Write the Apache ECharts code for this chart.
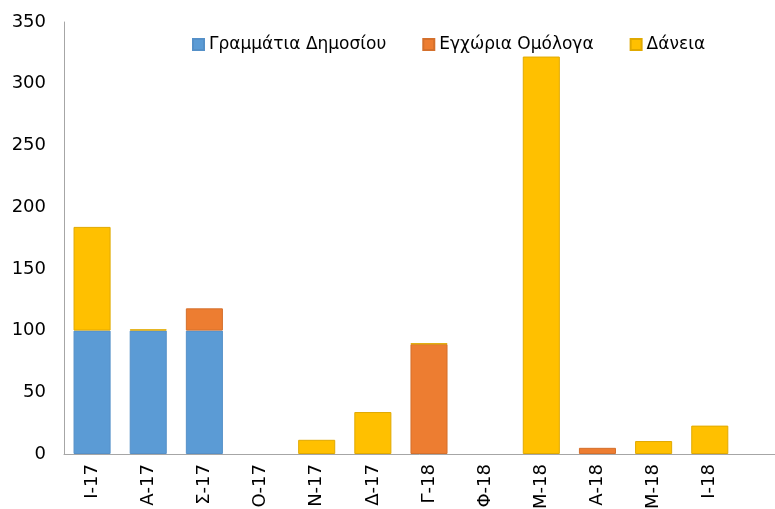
<!DOCTYPE html>
<html>
<head>
<meta charset="utf-8">
<script src="https://cdn.jsdelivr.net/npm/echarts@6/dist/echarts.min.js"></script>
<style>
html, body { margin: 0; padding: 0; background: #fff; }
#container { width: 775px; height: 509px; }
</style>
</head>
<body>
<div id="container"></div>
<script>
// μήνες (η τελευταία κενή θέση υπάρχει επειδή το αρχικό γράφημα είναι κομμένο δεξιά)
var months = ['Ι-17', 'Α-17', 'Σ-17', 'Ο-17', 'Ν-17', 'Δ-17', 'Γ-18', 'Φ-18', 'Μ-18', 'Α-18', 'Μ-18', 'Ι-18', ''];
// null = δεν υπάρχει τιμή (να μη σχεδιάζεται γραμμή στο μηδέν)
var grammatia = [100, 100, 100, null, null, null, null, null, null, null, null, null];
var omologa = [null, null, 18, null, null, null, 89, null, null, 5, null, null];
var daneia = [84, 1, null, null, 11.5, 34, 0.6, null, 322, null, 10.5, 23];
var yTicks = [0, 50, 100, 150, 200, 250, 300, 350];

var font = 'DejaVu Sans';
var myChart = echarts.init(document.getElementById('container'));

function barSeries(name, data, color, border) {
    return {
        name: name,
        type: 'bar',
        stack: 'total',
        barWidth: '66%',
        data: data,
        itemStyle: { color: color, borderColor: border, borderWidth: 1 }
    };
}

var option = {
    animation: false,
    color: ['#5B9BD5', '#ED7D31', '#FFC000'],
    legend: {
        left: 187,
        top: 31,
        icon: 'rect',
        itemWidth: 11,
        itemHeight: 11,
        itemGap: 36,
        selectedMode: false,
        textStyle: { fontFamily: font, fontSize: 17, color: '#000' },
        data: ['Γραμμάτια Δημοσίου', 'Εγχώρια Ομόλογα', 'Δάνεια']
    },
    grid: {
        left: 64,
        top: 22,
        width: 730,
        bottom: 55,
        outerBoundsMode: 'none',
        containLabel: false
    },
    xAxis: {
        type: 'category',
        data: months,
        axisTick: { show: false },
        axisLine: { lineStyle: { color: '#a6a6a6' } },
        axisLabel: {
            interval: 0,
            rotate: 90,
            margin: 10,
            fontFamily: font,
            fontSize: 18,
            color: '#000'
        }
    },
    yAxis: {
        type: 'value',
        min: yTicks[0],
        max: yTicks[yTicks.length - 1],
        interval: yTicks[1] - yTicks[0],
        splitLine: { show: false },
        axisTick: { show: false },
        axisLine: { show: true, lineStyle: { color: '#a6a6a6' } },
        axisLabel: {
            margin: 18,
            fontFamily: font,
            fontSize: 18,
            color: '#000'
        }
    },
    series: [
        barSeries('Γραμμάτια Δημοσίου', grammatia, '#5B9BD5', '#5590c8'),
        barSeries('Εγχώρια Ομόλογα', omologa, '#ED7D31', '#d4702c'),
        barSeries('Δάνεια', daneia, '#FFC000', '#e0a900')
    ]
};
myChart.setOption(option);
</script>
</body>
</html>
